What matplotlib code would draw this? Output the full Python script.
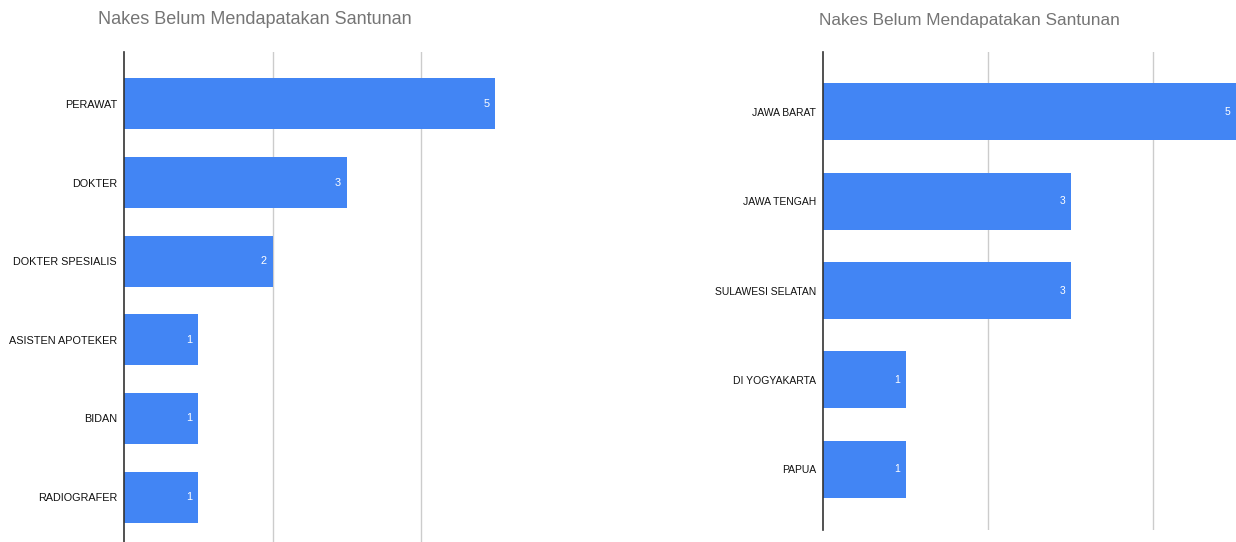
import matplotlib.pyplot as plt

plt.rcParams['font.family'] = ['Liberation Sans', 'DejaVu Sans']

# data
profesi = ["PERAWAT", "DOKTER", "DOKTER SPESIALIS", "ASISTEN APOTEKER", "BIDAN", "RADIOGRAFER"]
jumlah_profesi = [5, 3, 2, 1, 1, 1]
provinsi = ["JAWA BARAT", "JAWA TENGAH", "SULAWESI SELATAN", "DI YOGYAKARTA", "PAPUA"]
jumlah_provinsi = [5, 3, 3, 1, 1]
judul = "Nakes Belum Mendapatakan Santunan"

W, H = 1236, 542
fig = plt.figure(figsize=(W / 100, H / 100), dpi=100)


def px_axes(x0, x1, y0, y1):
    # pixel box (top-left origin) -> figure coords
    return fig.add_axes([x0 / W, 1 - y1 / H, (x1 - x0) / W, (y1 - y0) / H])


def draw(ax, cats, vals, xmax, ylo, yhi, bar_h, title, title_x, fs, tfs):
    y = list(range(len(cats)))
    ax.barh(y, vals, height=bar_h, color="#4285F4", zorder=3)
    ax.set_xlim(0, xmax)
    ax.set_ylim(yhi, ylo)
    ax.set_xticks([2, 4])
    ax.set_xticklabels([])
    ax.tick_params(axis="x", length=0)
    ax.grid(axis="x", color="#cccccc", linewidth=1, zorder=0)
    ax.set_yticks(y)
    ax.set_yticklabels(cats, fontsize=fs, color="#111111")
    ax.tick_params(axis="y", length=0, pad=5)
    for s in ["top", "right", "bottom"]:
        ax.spines[s].set_visible(False)
    ax.spines["left"].set_color("#333333")
    ax.spines["left"].set_linewidth(1.2)
    ax.spines["left"].set_zorder(4)
    for i, v in enumerate(vals):
        ax.annotate(str(v), (v, i), xytext=(-4, 0), textcoords="offset points",
                    ha="right", va="center", color="white", fontsize=fs, zorder=5)
    fig.text(title_x / W, 1 - 20 / H, title, ha="left", va="center",
             fontsize=tfs, color="#757575")


ax1 = px_axes(124, 124 + 5.8 * 74.25, 52, 549)
draw(ax1, profesi, jumlah_profesi, 5.8, -0.66, 5.66, 0.65, judul, 98, 7.8, 13)

ax2 = px_axes(823, 823 + 6 * 82.5, 52, 530)
draw(ax2, provinsi, jumlah_provinsi, 6, -0.67, 4.68, 0.64, judul, 819, 7.5, 12.4)

fig.savefig("out.png", dpi=100)
